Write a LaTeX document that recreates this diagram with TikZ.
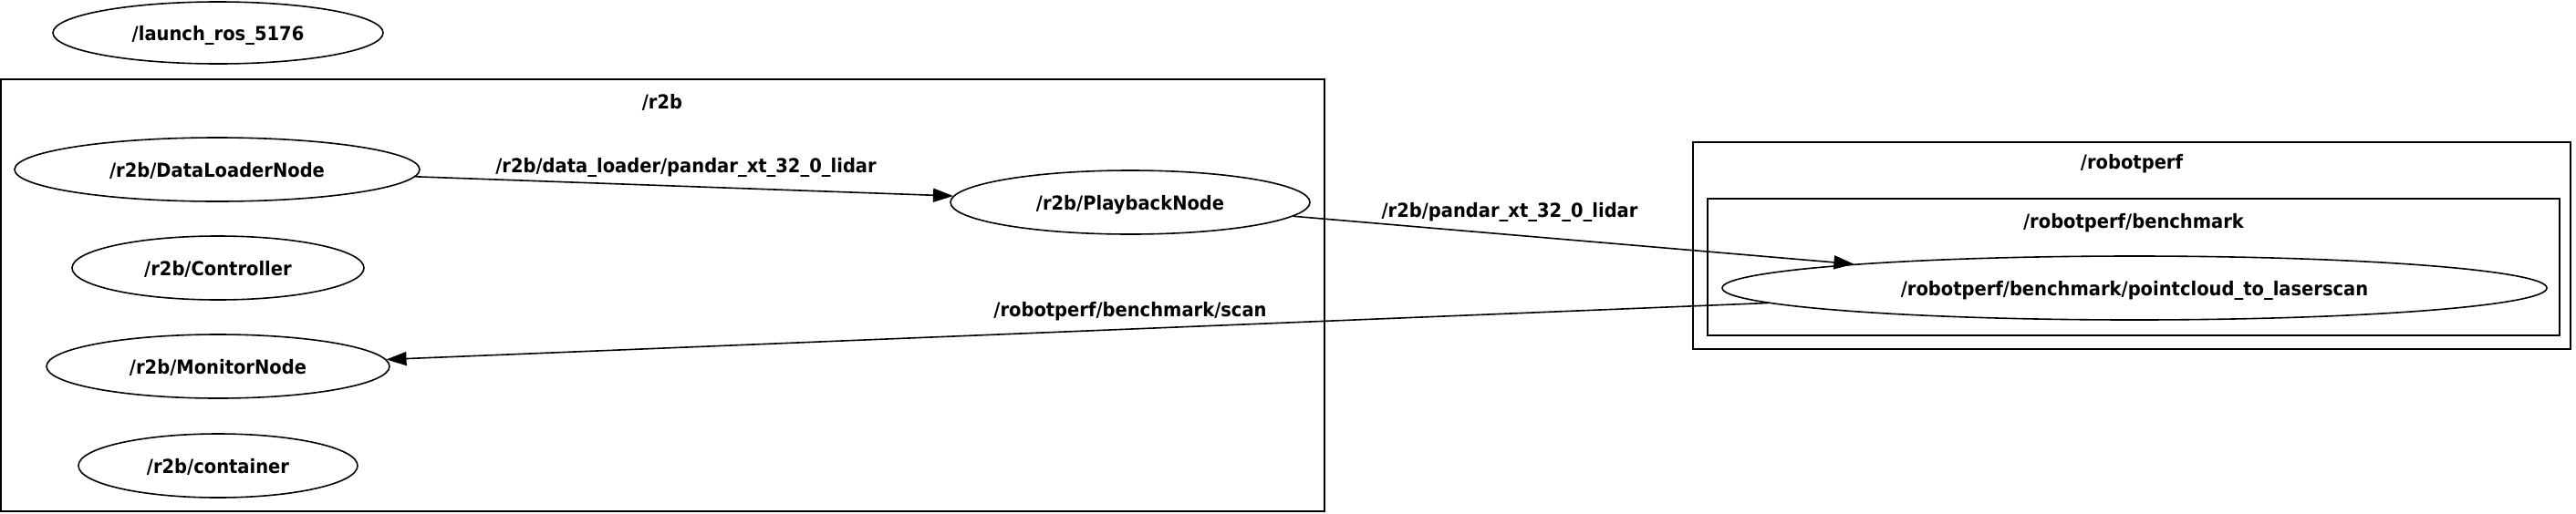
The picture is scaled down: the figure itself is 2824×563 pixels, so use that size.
\documentclass[tikz,border=0pt]{standalone}
\usepackage{fontspec}
\newfontfamily\rosfont{DejaVu Sans}[FakeStretch=0.92]
\usepackage{tikz}
\usetikzlibrary{shapes.geometric,arrows.meta}

\begin{document}
\begin{tikzpicture}[x=0.5pt,y=0.5pt,yscale=-1,xscale=1,
  every node/.style={font=\rosfont\bfseries\fontsize{10.6}{12}\selectfont},
  rosnode/.style={draw, ellipse, line width=0.8pt, inner sep=0pt, minimum height=35pt, text height=8pt, text depth=0pt},
  nsbox/.style={line width=0.8pt},
  topicedge/.style={line width=0.8pt, -{Triangle[length=11pt,width=7.5pt]}}]
\useasboundingbox (0,0) rectangle (2824,563);

% Namespace boxes
\draw[nsbox] (1,87) rectangle (1452,561);
\draw[nsbox] (1856,156) rectangle (2818,383);
\draw[nsbox] (1872,218) rectangle (2806,368);

% Namespace labels
\node[anchor=base] (r2blabel) at (726,119) {/r2b};
\node[anchor=base] (robotperflabel) at (2337,185) {/robotperf};
\node[anchor=base] (benchmarklabel) at (2339,250) {/robotperf/benchmark};

% ROS nodes
\node[rosnode, minimum width=181pt, minimum height=34pt] (launch) at (239,36) {/launch\_ros\_5176};
\node[rosnode, minimum width=222pt] (dataloader) at (238,186) {/r2b/DataLoaderNode};
\node[rosnode, minimum width=160pt] (controller) at (239,294) {/r2b/Controller};
\node[rosnode, minimum width=188pt] (monitor) at (239,402) {/r2b/MonitorNode};
\node[rosnode, minimum width=153pt] (container) at (239,511) {/r2b/container};
\node[rosnode, minimum width=197pt] (playback) at (1239,222) {/r2b/PlaybackNode};
\node[rosnode, minimum width=452pt] (pointcloud) at (2340,316) {/robotperf/benchmark/pointcloud\_to\_laserscan};

% Topics
\draw[topicedge] (dataloader) -- (playback);
\draw[topicedge] (playback) -- (pointcloud);
\draw[topicedge] (pointcloud) -- (monitor);

% Topic labels
\node[anchor=base] (lidarraw) at (752,189) {/r2b/data\_loader/pandar\_xt\_32\_0\_lidar};
\node[anchor=base] (lidar) at (1655,238) {/r2b/pandar\_xt\_32\_0\_lidar};
\node[anchor=base] (scan) at (1239,347) {/robotperf/benchmark/scan};

\end{tikzpicture}
\end{document}
